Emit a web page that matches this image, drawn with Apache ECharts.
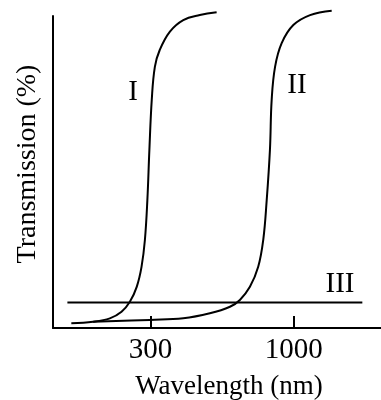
<!DOCTYPE html>
<html>
<head>
<meta charset="utf-8">
<script src="https://cdn.jsdelivr.net/npm/echarts@6/dist/echarts.min.js"></script>
<style>
html,body{margin:0;padding:0;background:#fff;}
#chart{width:381px;height:400px;}
</style>
</head>
<body>
<div id="chart"></div>
<script>
// Wavelength (nm) and transmission (%)
const wavelengthI = [154, 185, 213, 235, 252, 267, 278, 286, 292, 297, 303, 311, 324, 353, 395, 454, 523];
const transmissionI = [1.5, 2.0, 3.1, 5.2, 8.4, 13.2, 19.6, 28.2, 41.0, 57.1, 73.1, 83.7, 89.1, 95.0, 98.7, 100.3, 101.2];

const wavelengthII = [185, 298, 395, 494, 585, 636, 692, 742, 774, 797, 819, 831, 855, 904, 997, 1148, 1377];
const transmissionII = [2.0, 2.6, 3.1, 4.7, 6.8, 9.0, 13.2, 19.6, 28.2, 41.0, 57.1, 73.1, 83.7, 91.3, 97.1, 100.3, 101.7];

const wavelengthIII = [149, 1782];
const transmissionIII = [8.2, 8.2];

const tickLabels = [300, 1000];
const curveNames = ['I', 'II', 'III'];
const xTitle = 'Wavelength (nm)';
const yTitle = 'Transmission (%)';

const font = "'Liberation Serif', 'Times New Roman', serif";

function pairs(xs, ys) { return xs.map((x, i) => [x, ys[i]]); }

const chart = echarts.init(document.getElementById('chart'), null, {renderer: 'canvas'});
const lineStyle = {color: '#000', width: 2};

chart.setOption({
  animation: false,
  backgroundColor: '#fff',
  grid: {left: 53, right: 0, top: 16, bottom: 72, containLabel: false, outerBoundsMode: 'none'},
  xAxis: {
    type: 'log',
    logBase: 10,
    min: 132,
    max: 2085,
    axisLine: {show: true, lineStyle: {color: '#000', width: 2}},
    axisTick: {show: true, inside: true, length: 12, customValues: tickLabels, lineStyle: {color: '#000', width: 2}},
    minorTick: {show: false},
    axisLabel: {show: true, customValues: tickLabels, color: '#000', fontSize: 29, fontFamily: font, margin: 8,
      formatter: function (v) { return String(Math.round(v)); }},
    splitLine: {show: false}
  },
  yAxis: {
    type: 'value',
    min: 0,
    max: 100,
    axisLine: {show: true, lineStyle: {color: '#000', width: 2}},
    axisTick: {show: false},
    axisLabel: {show: false},
    splitLine: {show: false}
  },
  graphic: [
    {type: 'text', x: 229, y: 387, style: {text: xTitle, font: '27px ' + font, fill: '#000', align: 'center', verticalAlign: 'middle'}},
    {type: 'text', x: 28, y: 164, rotation: Math.PI / 2, style: {text: yTitle, font: '28px ' + font, fill: '#000', align: 'center', verticalAlign: 'middle'}},
    {type: 'text', x: 133, y: 92, style: {text: curveNames[0], font: '29px ' + font, fill: '#000', align: 'center', verticalAlign: 'middle'}},
    {type: 'text', x: 297, y: 85, style: {text: curveNames[1], font: '29px ' + font, fill: '#000', align: 'center', verticalAlign: 'middle'}},
    {type: 'text', x: 340, y: 284, style: {text: curveNames[2], font: '29px ' + font, fill: '#000', align: 'center', verticalAlign: 'middle'}}
  ],
  series: [
    {name: curveNames[0], type: 'line', data: pairs(wavelengthI, transmissionI), smooth: 0.4, showSymbol: false, clip: false, lineStyle: lineStyle},
    {name: curveNames[1], type: 'line', data: pairs(wavelengthII, transmissionII), smooth: 0.4, showSymbol: false, clip: false, lineStyle: lineStyle},
    {name: curveNames[2], type: 'line', data: pairs(wavelengthIII, transmissionIII), showSymbol: false, clip: false, lineStyle: lineStyle}
  ]
});
</script>
</body>
</html>
